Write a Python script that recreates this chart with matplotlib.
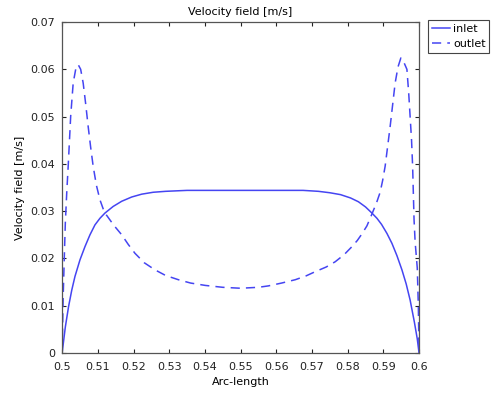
import matplotlib
matplotlib.use("Agg")
from matplotlib import pyplot as plt

# values
inlet_x = [0.5, 0.5009, 0.5018, 0.5027, 0.5036, 0.505, 0.5064, 0.5078, 0.5092,
           0.5106, 0.512, 0.5143, 0.5167, 0.5195, 0.5223, 0.5255, 0.529, 0.535,
           0.545, 0.555, 0.5625, 0.5675, 0.5718, 0.575, 0.578, 0.5808, 0.583,
           0.585, 0.5868, 0.5882, 0.5895, 0.591, 0.5924, 0.5938, 0.5952, 0.5964,
           0.5975, 0.5987, 0.5995, 0.6]
inlet_v = [0.0, 0.0055, 0.0098, 0.0133, 0.0162, 0.0197, 0.0225, 0.025, 0.0271,
           0.0285, 0.0296, 0.031, 0.0321, 0.033, 0.0336, 0.034, 0.0342, 0.0344,
           0.0344, 0.0344, 0.0344, 0.0344, 0.0342, 0.0339, 0.0335, 0.0328, 0.032,
           0.0309, 0.0296, 0.0285, 0.0272, 0.0253, 0.0232, 0.0206, 0.0176, 0.0146,
           0.0112, 0.0065, 0.003, 0.0]

outlet_x = [0.5, 0.5003, 0.5006, 0.5009, 0.5013, 0.5017, 0.5024, 0.5031, 0.5038,
            0.5045, 0.5052, 0.5059, 0.5066, 0.5073, 0.508, 0.5087, 0.5096, 0.5106,
            0.5115, 0.5124, 0.5145, 0.5167, 0.5185, 0.5204, 0.523, 0.526, 0.529,
            0.5326, 0.536, 0.5401, 0.545, 0.55, 0.555, 0.5578, 0.5615, 0.5653,
            0.5683, 0.5709, 0.574, 0.5765, 0.579, 0.5812, 0.5827, 0.584, 0.5854,
            0.5868, 0.5881, 0.5891, 0.5898, 0.5905, 0.5912, 0.5919, 0.5926, 0.5933,
            0.5941, 0.5949, 0.5958, 0.5966, 0.5971, 0.5975, 0.5979, 0.5982, 0.5986,
            0.5989, 0.5995, 0.5998, 0.6]
outlet_v = [0.0, 0.012, 0.02, 0.0275, 0.034, 0.0395, 0.0501, 0.0571, 0.06,
            0.061, 0.06, 0.0571, 0.0527, 0.0479, 0.0435, 0.0395, 0.0355, 0.0324,
            0.0305, 0.0292, 0.027, 0.025, 0.023, 0.0211, 0.0191, 0.0176, 0.0164,
            0.0155, 0.0148, 0.0143, 0.0139, 0.0137, 0.0139, 0.0142, 0.0148, 0.0155,
            0.0163, 0.0172, 0.0182, 0.0193, 0.0208, 0.0225, 0.0238, 0.0252, 0.0269,
            0.0294, 0.0318, 0.034, 0.0365, 0.0395, 0.0437, 0.0479, 0.0525, 0.0571,
            0.0605, 0.0624, 0.0614, 0.06, 0.055, 0.05, 0.045, 0.0395, 0.0282,
            0.0235, 0.018, 0.01, 0.0]

x_ticks = [0.5, 0.51, 0.52, 0.53, 0.54, 0.55, 0.56, 0.57, 0.58, 0.59, 0.6]
x_labels = ["0.5", "0.51", "0.52", "0.53", "0.54", "0.55", "0.56", "0.57",
            "0.58", "0.59", "0.6"]
y_ticks = [0, 0.01, 0.02, 0.03, 0.04, 0.05, 0.06, 0.07]
y_labels = ["0", "0.01", "0.02", "0.03", "0.04", "0.05", "0.06", "0.07"]

color = "#4545f2"

fig = plt.figure(figsize=(4.93, 3.94), dpi=100)
ax = fig.add_axes([0.126, 0.104, 0.724, 0.84])

ax.plot(inlet_x, inlet_v, color=color, lw=1.1, label="inlet")
ax.plot(outlet_x, outlet_v, color=color, lw=1.1, dashes=(6, 4), label="outlet")

ax.set_xlim(0.5, 0.6)
ax.set_ylim(0, 0.07)
ax.set_xticks(x_ticks)
ax.set_xticklabels(x_labels)
ax.set_yticks(y_ticks)
ax.set_yticklabels(y_labels)
ax.tick_params(direction="in", length=3, width=0.8, top=True, right=True,
               labelsize=8, colors="#222222")
ax.tick_params(axis="x", pad=6.5)
ax.tick_params(axis="y", pad=5)
for s in ax.spines.values():
    s.set_color("#555555")
    s.set_linewidth(0.9)

ax.set_title("Velocity field [m/s]", fontsize=8, pad=5)
ax.set_xlabel("Arc-length", fontsize=8, labelpad=3.5)
ax.set_ylabel("Velocity field [m/s]", fontsize=8, labelpad=4)

leg = ax.legend(loc="upper left", bbox_to_anchor=(1.025, 1.005), fontsize=8,
                handlelength=1.6, handletextpad=0.3, borderaxespad=0,
                borderpad=0.35, labelspacing=0.45, fancybox=False, framealpha=1)
leg.get_frame().set_edgecolor("#444444")
leg.get_frame().set_linewidth(0.8)

fig.savefig("out.png", dpi=100)
